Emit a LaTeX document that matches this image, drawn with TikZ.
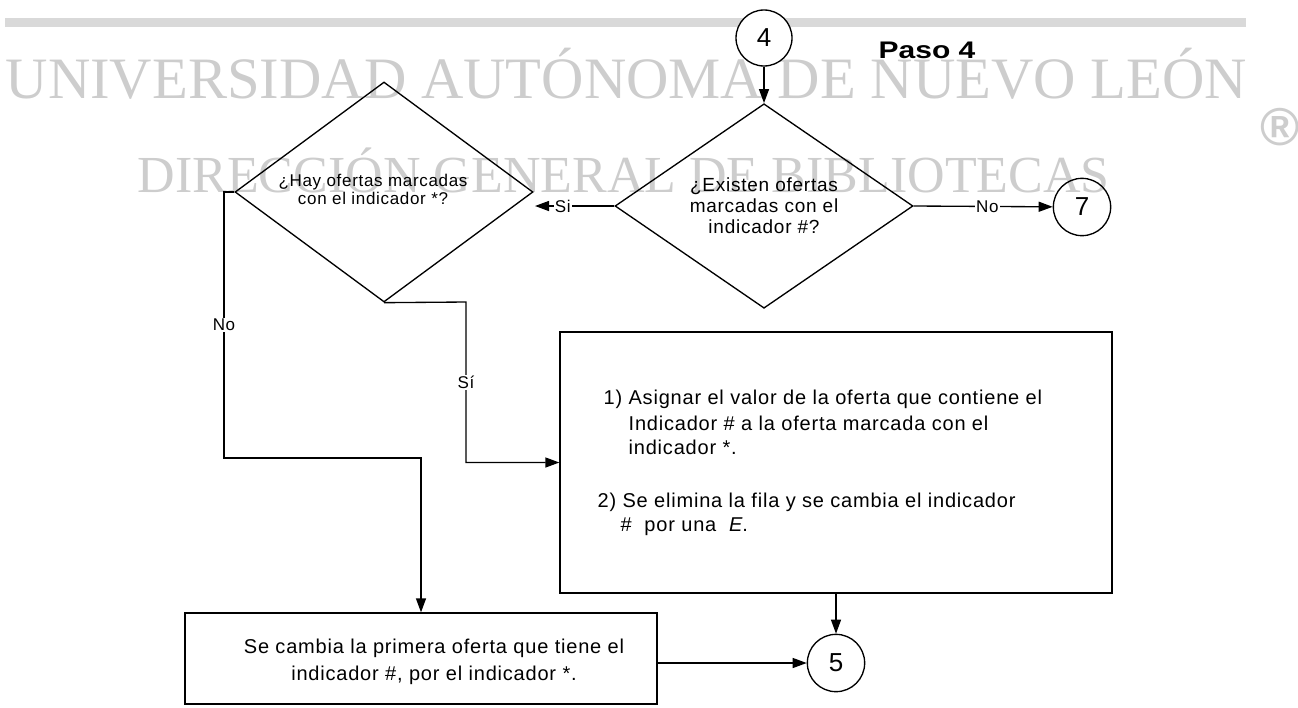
\documentclass[tikz,border=0pt]{standalone}
\usepackage{fontspec}
\setmainfont{Liberation Sans}
\newfontfamily\wmfont{Liberation Serif}
\newfontfamily\dfont{Liberation Sans}[LetterSpace=4]
\newfontfamily\pfont{Liberation Sans}[FakeStretch=1.25]
\usetikzlibrary{shapes.geometric,arrows.meta,calc}
\definecolor{wm}{RGB}{205,205,205}
\definecolor{barc}{RGB}{217,217,217}
\tikzset{
  boxnode/.style={draw, rectangle, inner sep=0pt},
  dianode/.style={draw, diamond, inner sep=0pt, align=center},
  connnode/.style={draw, circle, inner sep=0pt, minimum size=43pt, font=\dfont\fontsize{19.5}{20}\selectfont},
  arr/.style={-{Triangle[length=10.5pt,width=7.5pt]}},
  lbl/.style={fill=white, inner sep=1pt, font=\dfont\fontsize{12.75}{13}\selectfont},
  txt/.style={inner sep=0pt, font=\dfont\fontsize{15}{16}\selectfont},
  wmtext/.style={text=wm, inner sep=0pt, anchor=base west}
}
\begin{document}
\begin{tikzpicture}[x=0.75pt,y=-0.75pt,line width=1pt]
\path[use as bounding box] (0,0) rectangle (1298,707);
% top bar and watermark
\fill[barc] (5,18) rectangle (1246,27);
\node[wmtext, font=\wmfont\fontsize{44}{44}\selectfont] (wm1) at (5,98) {UNIVERSIDAD AUTÓNOMA DE NUEVO LEÓN};
\node[wmtext, font=\wmfont\fontsize{39}{39}\selectfont] (wm2) at (137,192) {DIRECCIÓN GENERAL DE BIBLIOTECAS};
\node[text=wm, inner sep=0pt, font=\bfseries\fontsize{40}{40}\selectfont] (reg) at (1280,127) {®};
% nodes
\node[connnode, fill=white, minimum size=42pt] (c4) at (764,38) {4};
\node[inner sep=0pt, anchor=base west, font=\pfont\bfseries\fontsize{18}{18}\selectfont] (paso) at (878,58) {Paso 4};
\node[dianode, minimum width=223.5pt, minimum height=144pt, font=\dfont\fontsize{14.25}{15.75}\selectfont] (dr) at (764,206) {¿Existen ofertas\\marcadas con el\\indicador \#?};
\node[dianode, minimum width=223.5pt, minimum height=165pt] (dl) at (384,192) {};
\node[inner sep=0pt, align=center, font=\dfont\fontsize{12.75}{13.5}\selectfont] (dltext) at (373,189) {¿Hay ofertas marcadas\\con el indicador *?};
\node[connnode] (c7) at (1082,207) {7};
\node[boxnode, minimum width=414pt, minimum height=195.75pt] (bb) at (836,462.5) {};
\node[boxnode, minimum width=354pt, minimum height=68.25pt] (bl) at (421,658.5) {};
\node[connnode] (c5) at (836,663) {5};
% texts in boxes
\node[txt, anchor=west] (t1) at (603,399) {1) Asignar el valor de la oferta que contiene el};
\node[txt, anchor=west] (t2) at (628,423) {Indicador \# a la oferta marcada con el};
\node[txt, anchor=west] (t3) at (628,447) {indicador *.};
\node[txt, anchor=west] (t4) at (597,502) {2) Se elimina la fila y se cambia el indicador};
\node[txt, anchor=west] (t5) at (620,527) {\# \ por una \ \textit{E}.};
\node[txt, align=center, font=\dfont\fontsize{15}{20.25}\selectfont] (t6) at (434,661.5) {Se cambia la primera oferta que tiene el\\indicador \#, por el indicador *.};
% connectors
\coordinate (siend) at (535,206);
\coordinate (sicorner) at (466,302);
\coordinate (nocorner) at (224,192);
\coordinate (nojoin) at (421,458);
\draw[arr] (c4) -- (dr.north);
\draw[arr] (dr.east) -- node[lbl, pos=0.53] {No} (c7);
\draw[arr] (dr.west) -- node[lbl, pos=0.65] {Si} (siend);
\draw[arr] (dl.south) -- (sicorner) |- node[lbl, pos=0.25] {Sí} (bb.west);
\draw[arr] (dl.west) -- (nocorner) |- node[lbl, pos=0.25] {No} (nojoin) -- (bl.north);
\draw[arr] (bb.south) -- (c5.north);
\draw[arr] (bl.east |- c5.west) -- (c5.west);
\end{tikzpicture}
\end{document}
